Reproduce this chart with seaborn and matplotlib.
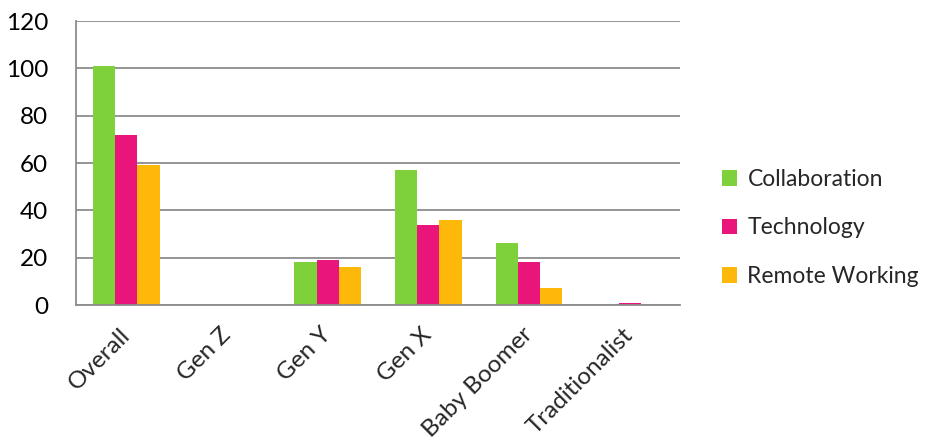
import matplotlib
matplotlib.use("Agg")
import matplotlib.pyplot as plt
import seaborn as sns
import pandas as pd
from matplotlib.patches import Patch

categories = ["Overall", "Gen Z", "Gen Y", "Gen X", "Baby Boomer", "Traditionalist"]
collaboration = [101, 0, 18, 57, 26, 0]
technology = [72, 0, 19, 34, 18, 1]
remote_working = [59, 0, 16, 36, 7, 0]
series_names = ["Collaboration", "Technology", "Remote Working"]
colors = ["#7FD13B", "#EA157A", "#FEB80A"]
y_ticks = [0, 20, 40, 60, 80, 100, 120]

rows = []
for name, vals in zip(series_names, [collaboration, technology, remote_working]):
    for c, v in zip(categories, vals):
        rows.append({"category": c, "series": name, "value": v})
df = pd.DataFrame(rows)

sns.set_theme(style="white")
plt.rcParams["font.family"] = ["Lato", "DejaVu Sans"]
FS = 17.5

fig = plt.figure(figsize=(9.29, 4.43), dpi=100)
ax = fig.add_axes([76/929, 1-305/443, (680-76)/929, (305-21)/443])

sns.barplot(data=df, x="category", y="value", hue="series", order=categories,
            hue_order=series_names, palette=colors, width=0.665, ax=ax,
            saturation=1, legend=False, edgecolor="none")

grid_c = "#8C8C8C"
ax.set_ylim(0, 120)
ax.set_xlim(-0.5, len(categories) - 0.5)
ax.set_yticks(y_ticks)
ax.set_yticklabels([str(t) for t in y_ticks], fontsize=FS)
ax.yaxis.grid(True, color=grid_c, linewidth=1.3)
ax.set_axisbelow(True)
for s in ["top", "right"]:
    ax.spines[s].set_visible(False)
for s in ["left", "bottom"]:
    ax.spines[s].set_color(grid_c)
    ax.spines[s].set_linewidth(1.3)
ax.tick_params(axis="y", direction="out", length=8, width=1.3, color=grid_c, pad=12, labelcolor="black")

ax.set_xticks(range(len(categories)))
ax.set_xticklabels(categories, rotation=45, ha="right", va="center",
                   rotation_mode="anchor", fontsize=FS)
ax.tick_params(axis="x", which="major", length=0, pad=19)
ax.set_xticks([i - 0.5 for i in range(len(categories) + 1)], minor=True)
ax.tick_params(axis="x", which="minor", direction="out", length=7, width=1.3, color=grid_c)
ax.set_xlabel("")
ax.set_ylabel("")

handles = [Patch(facecolor=c, edgecolor="none", label=n) for c, n in zip(colors, series_names)]
fig.legend(handles=handles, loc="center left", bbox_to_anchor=(722/929, 1-228/443),
           frameon=False, fontsize=16.5, handlelength=0.66, handleheight=0.66,
           handletextpad=0.45, labelspacing=1.2, borderaxespad=0, borderpad=0)

fig.savefig("out.png", dpi=100)
